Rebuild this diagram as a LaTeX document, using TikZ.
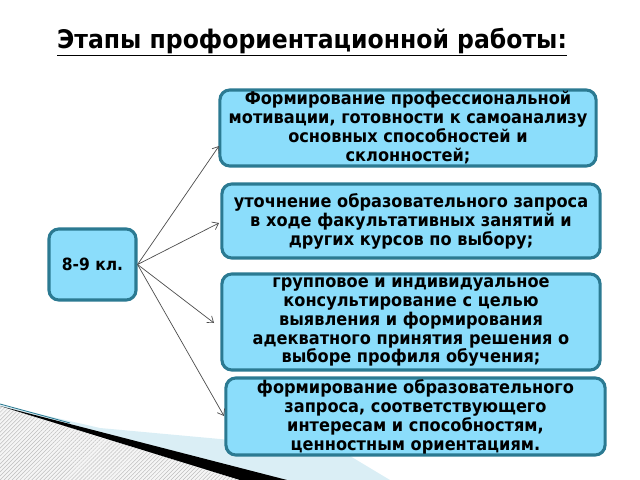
\documentclass[tikz,border=0pt]{standalone}
\usepackage{fontspec}
\setmainfont{DejaVu Sans}[FakeStretch=0.92]
\usetikzlibrary{arrows.meta, patterns.meta}
\definecolor{boxfill}{RGB}{139, 221, 251}
\definecolor{boxline}{RGB}{43, 122, 146}
\definecolor{palesky}{RGB}{218, 238, 245}

\begin{document}
\begin{tikzpicture}[x=0.025cm, y=-0.025cm,
  stage/.style={draw=boxline, fill=boxfill, line width=2.2pt, rounded corners=7pt,
    align=center, inner sep=0pt, font=\bfseries\fontsize{12.5}{13.5}\selectfont},
  link/.style={-{Straight Barb[length=4pt, width=6pt]}, line width=0.5pt, black!70}]
  \useasboundingbox (0,0) rectangle (640,480);

  % Corner decoration
  \fill[palesky] (0,405) -- (100,428) -- (340,450) -- (390,480) -- (0,480) -- cycle;
  \fill[gray!8] (0,406) -- (240,480) -- (0,480) -- cycle;
  \fill[pattern={Lines[angle=45, distance=2pt, line width=0.35pt]}, pattern color=gray!50]
    (0,406) -- (240,480) -- (0,480) -- cycle;
  \fill[black] (0,406) -- (287,480) -- (240,480) -- cycle;
  \draw[boxline, line width=0.6pt] (0,404) -- (70,423);

  % Title
  \node[font=\bfseries\fontsize{18.2}{20}\selectfont] (title) at (312,42)
    {\underline{Этапы профориентационной работы:}};

  % Stages
  \node[stage, font=\bfseries\fontsize{12}{13.5}\selectfont, minimum width=2.175cm,
    minimum height=1.775cm] (grade) at (92.5,264.5) {8-9 кл.};
  \node[stage, minimum width=9.4cm, minimum height=1.9cm] (s1) at (408,128)
    {Формирование профессиональной\\мотивации, готовности к самоанализу\\основных способностей и\\склонностей;};
  \node[stage, minimum width=9.45cm, minimum height=1.85cm] (s2) at (411,221)
    {уточнение образовательного запроса\\в ходе факультативных занятий и\\других курсов по выбору;};
  \node[stage, minimum width=9.45cm, minimum height=2.4cm] (s3) at (411,322)
    {групповое и индивидуальное\\консультирование с целью\\выявления и формирования\\адекватного принятия решения о\\выборе профиля обучения;};
  \node[stage, minimum width=9.475cm, minimum height=1.925cm] (s4) at (415.5,416.5)
    {формирование образовательного\\запроса, соответствующего\\интересам и способностям,\\ценностным ориентациям.};

  % Links
  \coordinate (t1) at (219,146);
  \coordinate (t2) at (219,223);
  \coordinate (t3) at (214,323);
  \coordinate (t4) at (224,416);
  \foreach \t in {t1,t2,t3,t4}
    \draw[link] (grade.east) -- (\t);
\end{tikzpicture}
\end{document}
